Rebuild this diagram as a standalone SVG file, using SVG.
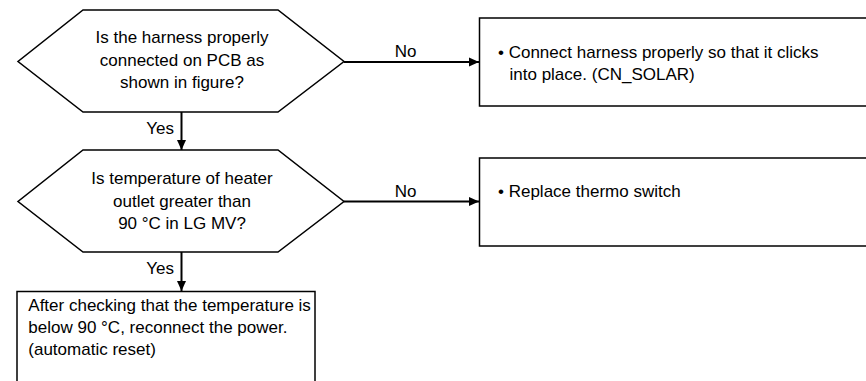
<svg xmlns="http://www.w3.org/2000/svg" width="866" height="381" viewBox="0 0 866 381">
<defs>
<marker id="arr" viewBox="0 0 10 10" refX="10" refY="5" markerWidth="10" markerHeight="10" markerUnits="userSpaceOnUse" orient="auto">
<path d="M0,0.5 L10,5 L0,9.5 Z" fill="#000"/>
</marker>
</defs>
<style>
.shape{fill:#fff;stroke:#000;stroke-width:1.5}
.conn{fill:none;stroke:#000;stroke-width:2;marker-end:url(#arr)}
text{font-family:"Liberation Sans",Arial,sans-serif;font-size:17px;fill:#000}
.c{text-anchor:middle}
.e{text-anchor:end}
</style>
<rect width="866" height="381" fill="#fff"/>
<g id="connectors">
<line class="conn" x1="344" y1="62" x2="479" y2="62"/>
<line class="conn" x1="181.5" y1="112" x2="181.5" y2="150"/>
<line class="conn" x1="344" y1="201.5" x2="479" y2="201.5"/>
<line class="conn" x1="181.5" y1="252" x2="181.5" y2="291"/>
<text x="405.5" y="56.5" class="c">No</text>
<text x="405.5" y="196.5" class="c">No</text>
<text x="174" y="134" class="e">Yes</text>
<text x="174" y="273.5" class="e">Yes</text>
</g>
<g id="decision1">
<polygon class="shape" points="83,10 278,10 344,61.5 278,112 83,112 18,61.5"/>
<text x="182" y="43" class="c">Is the harness properly</text>
<text x="182" y="65.7" class="c">connected on PCB as</text>
<text x="182" y="88.3" class="c">shown in figure?</text>
</g>
<g id="action1">
<rect class="shape" x="479.5" y="18" width="400" height="88"/>
<text x="498" y="57.5">• Connect harness properly so that it clicks</text>
<text x="509.5" y="80">into place. (CN_SOLAR)</text>
</g>
<g id="decision2">
<polygon class="shape" points="83,150 278,150 344,201.5 278,252 83,252 18,201.5"/>
<text x="182" y="184" class="c">Is temperature of heater</text>
<text x="182" y="206.5" class="c">outlet greater than</text>
<text x="182" y="228.5" class="c">90 °C in LG MV?</text>
</g>
<g id="action2">
<rect class="shape" x="479.5" y="158" width="400" height="88"/>
<text x="498" y="196.5">• Replace thermo switch</text>
</g>
<g id="action3">
<rect class="shape" x="17" y="291.5" width="298" height="100"/>
<text x="28.3" y="310.5">After checking that the temperature is</text>
<text x="28.3" y="332.5">below 90 °C, reconnect the power.</text>
<text x="28.3" y="354.5">(automatic reset)</text>
</g>
</svg>
